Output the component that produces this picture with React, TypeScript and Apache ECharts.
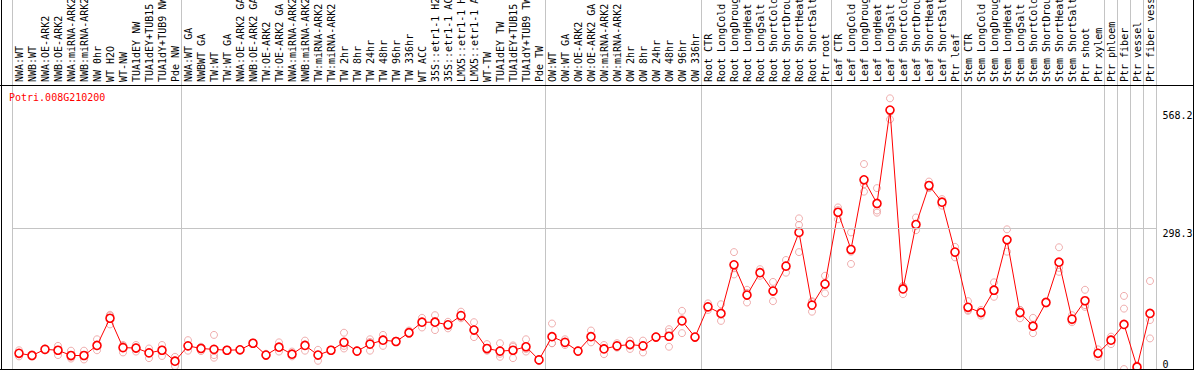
import React, { useEffect, useRef } from "react";
import * as echarts from "echarts";

const geneId = "Potri.008G210200";

const categories = [
  "NWA:WT", "NWB:WT", "NWA:OE-ARK2", "NWB:OE-ARK2", "NWA:miRNA-ARK2", "NWB:miRNA-ARK2", "NW 0hr", "WT H2O", "WT-NW", "TUA1dEY NW", "TUA1dEY+TUB15", "TUA1dY+TUB9 NW", "Pde NW",
  "NWA:WT GA", "NWBWT GA", "TW:WT", "TW:WT GA", "NWA:OE-ARK2 GA", "NWB:OE-ARK2 GA", "TW:OE-ARK2", "TW:OE-ARK2 GA", "NWA:miRNA-ARK2", "NWB:miRNA-ARK2", "TW:miRNA-ARK2", "TW:miRNA-ARK2",
  "TW 2hr", "TW 8hr", "TW 24hr", "TW 48hr", "TW 96hr", "TW 336hr", "WT ACC", "35S::etr1-1 H2O", "35S::etr1-1 ACC", "LMX5::etr1-1 H2O", "LMX5::etr1-1 ACC", "WT-TW", "TUA1dEY TW", "TUA1dEY+TUB15", "TUA1dY+TUB9 TW", "Pde TW",
  "OW:WT", "OW:WT GA", "OW:OE-ARK2", "OW:OE-ARK2 GA", "OW:miRNA-ARK2", "OW:miRNA-ARK2", "OW 2hr", "OW 8hr", "OW 24hr", "OW 48hr", "OW 96hr", "OW 336hr",
  "Root CTR", "Root LongCold", "Root LongDrought", "Root LongHeat", "Root LongSalt", "Root ShortCold", "Root ShortDrought", "Root ShortHeat", "Root ShortSalt", "Ptr root",
  "Leaf CTR", "Leaf LongCold", "Leaf LongDrought", "Leaf LongHeat", "Leaf LongSalt", "Leaf ShortCold", "Leaf ShortDrought", "Leaf ShortHeat", "Leaf ShortSalt", "Ptr leaf",
  "Stem CTR", "Stem LongCold", "Stem LongDrought", "Stem LongHeat", "Stem LongSalt", "Stem ShortCold", "Stem ShortDrought", "Stem ShortHeat", "Stem ShortSalt", "Ptr shoot",
  "Ptr xylem", "Ptr phloem", "Ptr fiber", "Ptr vessel", "Ptr fiber vessel",
];

// index of the first category of each sample group (grey separators)
const groupStarts = [0, 13, 41, 53, 63, 73, 84, 85, 86, 87];

const means = [
  13, 8, 22, 20, 8, 8, 31, 93, 26, 25, 14, 20, -5,
  30, 24, 22, 20, 21, 36, 9, 27, 11, 31, 9, 20,
  38, 18, 34, 43, 40, 60, 84, 84, 78, 99, 66, 24, 18, 20, 28, -2,
  51, 38, 18, 51, 23, 30, 33, 30, 50, 52, 87, 50,
  119, 104, 215, 146, 197, 155, 212, 289, 123, 171,
  335, 250, 409, 355, 568.2, 160, 307, 396, 358, 244,
  118, 106, 157, 272, 106, 75, 129, 221, 91, 133,
  13, 43, 79, -18, 104,
];

const rep1 = [
  20, 11, 24, 30, 19, 19, 45, 101, 32, 32, 24, 32, 5,
  43, 28, 55, 22, 23, 38, 12, 38, 17, 42, 21, 22,
  60, 20, 45, 55, 42, 65, 94, 100, 70, 108, 84, 34, 36, 31, 45, 0,
  81, 45, 20, 65, 32, 36, 42, 42, 52, 68, 110, 52,
  127, 125, 244, 158, 205, 176, 226, 321, 132, 190,
  346, 289, 445, 390, 595, 167, 323, 405, 365, 256,
  132, 112, 175, 296, 93, 94, 132, 255, 100, 158,
  22, 51, 144, -23, 178,
];

const rep2 = [
  6, 6, 20, 9, 1, -1, 20, 79, 15, 17, 2, 7, -16,
  19, 18, 9, 19, 20, 34, 7, 17, 9, 19, -4, 19,
  24, 17, 19, 30, 39, 57, 72, 66, 85, 93, 50, 19, 5, 2, 17, -5,
  36, 32, 17, 38, 11, 27, 23, 15, 48, 28, 59, 48,
  112, 87, 193, 129, 190, 132, 197, 306, 108, 150,
  319, 245, 382, 339, 547, 148, 294, 392, 350, 232,
  110, 99, 142, 245, 112, 59, 127, 199, 84, 123,
  5, 34, 115, -15, 89,
];

const rep3 = [
  13, 8, 22, 21, 5, 7, 29, 99, 30, 27, 15, 22, -3,
  29, 27, 3, 20, 21, 36, 9, 25, 6, 33, 10, 20,
  30, 18, 39, 45, 40, 58, 85, 87, 78, 96, 65, 20, 12, 28, 23, -2,
  36, 37, 18, 50, 25, 26, 33, 32, 49, 62, 91, 49,
  119, 101, 207, 151, 196, 157, 214, 244, 130, 174,
  340, 217, 399, 334, 564, 165, 305, 390, 358, 242,
  112, 106, 155, 274, 112, 73, 129, 208, 88, 119,
  12, 45, -23, -15, 47,
];

const yTickValues = [0, 298.3, 568.2];
const gridLineValue = 298.3;

const MONO = "'DejaVu Sans Mono', monospace";

export default function App() {
  const ref = useRef<HTMLDivElement>(null);

  useEffect(() => {
    if (!ref.current) return;
    const chart = echarts.init(ref.current, null, { renderer: "svg" });

    const replicateData: [number, number][] = [];
    [rep1, rep2, rep3].forEach((arr) => {
      arr.forEach((v, i) => replicateData.push([i, v]));
    });

    const isGroupStart = (index: number) => groupStarts.indexOf(index) >= 0;

    const option: any = {
      animation: false,
      backgroundColor: "#ffffff",
      grid: [
        { left: 12.5, top: 85, width: 1144, height: 284, outerBoundsMode: "none", containLabel: false },
        { left: 12.5, top: 0, width: 1144, height: 85, outerBoundsMode: "none", containLabel: false },
      ],
      xAxis: [
        {
          type: "category",
          gridIndex: 0,
          position: "top",
          data: categories,
          boundaryGap: true,
          axisLine: { show: false },
          axisTick: { show: false },
          axisLabel: {
            interval: 0,
            rotate: 90,
            margin: 3,
            hideOverlap: false,
            verticalAlign: "middle",
            fontFamily: MONO,
            fontSize: 10,
            color: "#000000",
          },
          splitLine: {
            show: true,
            interval: (index: number) => isGroupStart(index),
            lineStyle: { color: "#c4c4c4", width: 1 },
          },
        },
        {
          type: "category",
          gridIndex: 1,
          position: "top",
          data: categories,
          boundaryGap: true,
          axisLine: { show: false },
          axisTick: { show: false },
          axisLabel: { show: false },
          splitLine: {
            show: true,
            interval: (index: number) => isGroupStart(index),
            lineStyle: { color: "#c4c4c4", width: 1 },
          },
        },
      ],
      yAxis: [
        {
          type: "value",
          gridIndex: 0,
          position: "right",
          min: -22.8,
          max: 625.4,
          axisLine: { show: false },
          axisTick: { show: false },
          splitLine: { show: false },
          axisLabel: {
            customValues: yTickValues,
            margin: 6,
            fontFamily: MONO,
            fontSize: 10,
            color: "#000000",
            verticalAlign: "top",
            formatter: (v: number) => String(v),
          },
        },
        {
          type: "value",
          gridIndex: 1,
          min: 0,
          max: 1,
          show: false,
          splitLine: { show: false },
        },
      ],
      series: [
        {
          name: "replicates",
          type: "scatter",
          xAxisIndex: 0,
          yAxisIndex: 0,
          data: replicateData,
          symbol: "circle",
          symbolSize: 7,
          itemStyle: {
            color: "rgba(0,0,0,0)",
            borderColor: "#eb9a9a",
            borderWidth: 1,
          },
          silent: true,
          markLine: {
            silent: true,
            symbol: "none",
            label: { show: false },
            lineStyle: { color: "#c4c4c4", type: "solid", width: 1 },
            data: [{ yAxis: gridLineValue }],
          },
          z: 2,
        },
        {
          name: "mean",
          type: "line",
          xAxisIndex: 0,
          yAxisIndex: 0,
          data: means,
          symbol: "circle",
          symbolSize: 8,
          showSymbol: true,
          showAllSymbol: true,
          lineStyle: { color: "#ff0000", width: 1 },
          itemStyle: {
            color: "#ffffff",
            borderColor: "#ff0000",
            borderWidth: 1.6,
          },
          z: 3,
        },
      ],
      graphic: [
        {
          type: "text",
          left: 9,
          top: 92,
          style: {
            text: geneId,
            fill: "#ff0000",
            font: "10px 'DejaVu Sans Mono', monospace",
          },
          z: 10,
        },
        {
          type: "line",
          shape: { x1: 0, y1: 85.5, x2: 1194, y2: 85.5 },
          style: { stroke: "#000000", lineWidth: 1 },
          z: 10,
        },
        {
          type: "line",
          shape: { x1: 1.5, y1: 0, x2: 1.5, y2: 370 },
          style: { stroke: "#000000", lineWidth: 1 },
          z: 10,
        },
        {
          type: "line",
          shape: { x1: 1193.5, y1: 0, x2: 1193.5, y2: 370 },
          style: { stroke: "#000000", lineWidth: 1 },
          z: 10,
        },
        {
          type: "line",
          shape: { x1: 0, y1: 369.5, x2: 1194, y2: 369.5 },
          style: { stroke: "#000000", lineWidth: 1 },
          z: 10,
        },
      ],
    };

    chart.setOption(option);
    return () => {
      chart.dispose();
    };
  }, []);

  return (
    <div
      ref={ref}
      style={{ position: "fixed", left: 0, top: 0, width: 1194, height: 370, background: "#fff" }}
    />
  );
}
